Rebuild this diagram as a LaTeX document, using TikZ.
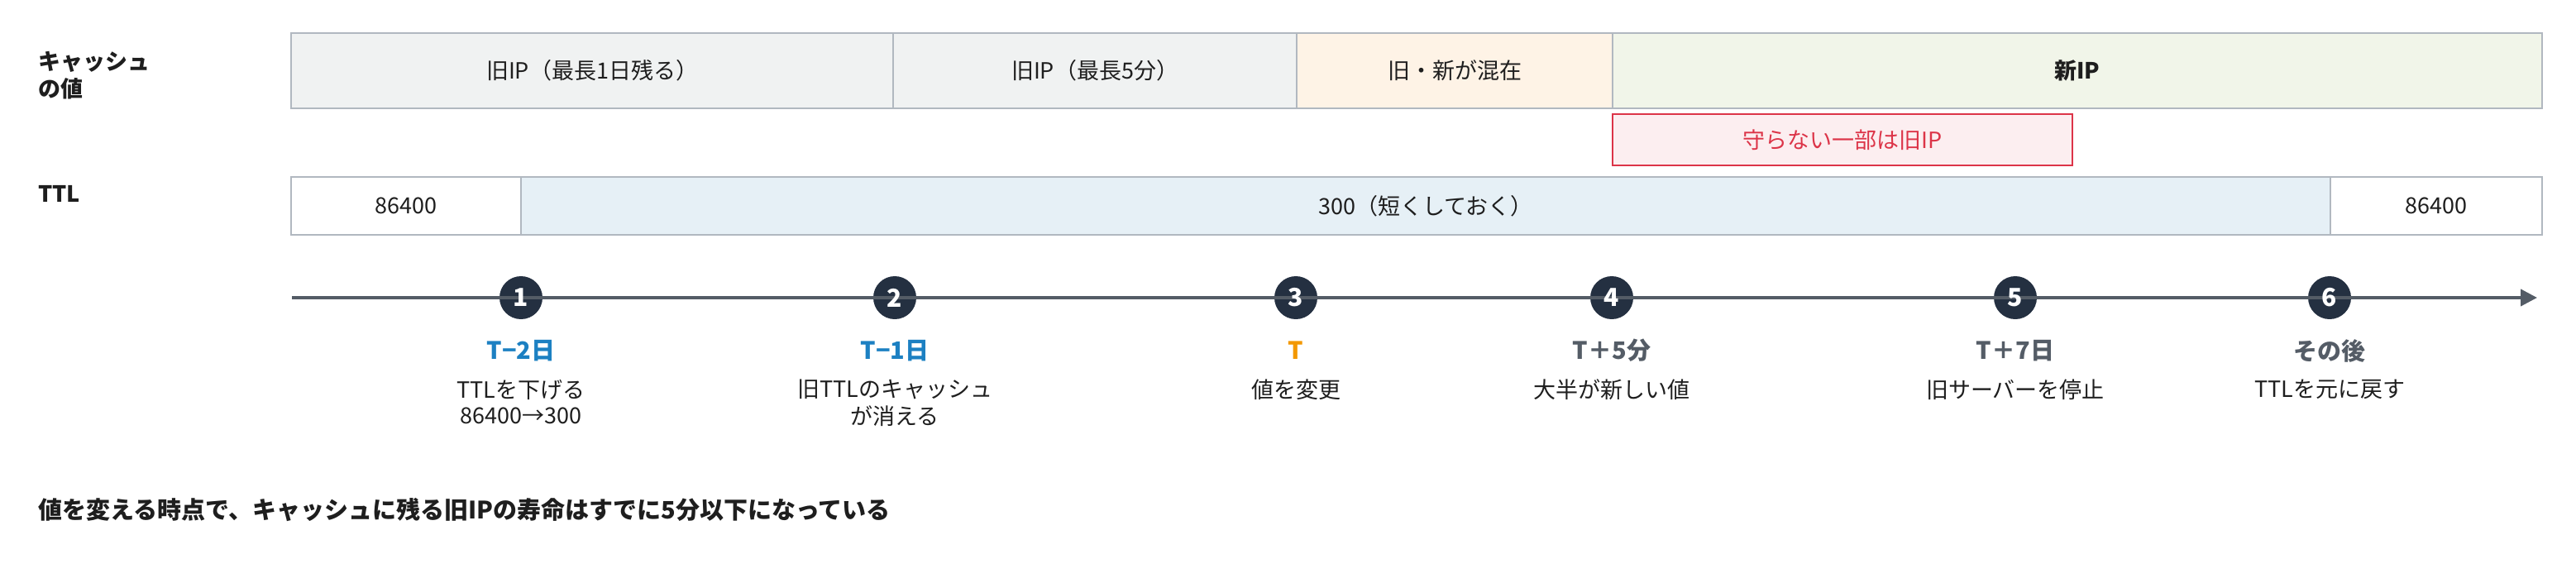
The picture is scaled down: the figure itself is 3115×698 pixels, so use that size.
\documentclass[tikz,border=0pt]{standalone}
\usepackage{fontspec}
\setmainfont{Noto Sans CJK JP}
\usetikzlibrary{arrows.meta}
\definecolor{oldfill}{HTML}{F0F2F2}
\definecolor{mixfill}{HTML}{FEF3E6}
\definecolor{newfill}{HTML}{F1F5E9}
\definecolor{cellline}{HTML}{B1B8C0}
\definecolor{ttlfill}{HTML}{E6F0F6}
\definecolor{redfill}{HTML}{FCEEF0}
\definecolor{redline}{HTML}{DC3448}
\definecolor{axisgray}{HTML}{545C66}
\definecolor{navy}{HTML}{243041}
\definecolor{stepblue}{HTML}{1C80C2}
\definecolor{steporange}{HTML}{F39800}
\definecolor{ink}{HTML}{1E1E1E}
\begin{document}
\begin{tikzpicture}[x=0.5pt,y=-0.5pt,
  cellbox/.style={draw=cellline, line width=1pt},
  outerbox/.style={draw=cellline, line width=1.3pt},
  body/.style={font=\fontsize{13.5pt}{16pt}\selectfont, text=ink, inner sep=0pt},
  bodybold/.style={body, font=\fontsize{13.5pt}{16pt}\selectfont\bfseries},
  sidelabel/.style={font=\fontsize{13.5pt}{16pt}\selectfont\bfseries, text=ink, inner sep=0pt, anchor=west},
  steptitle/.style={font=\fontsize{14.5pt}{17pt}\selectfont\bfseries, inner sep=0pt},
  stepdot/.style={circle, fill=navy, minimum size=26pt, inner sep=0pt},
  stepnum/.style={font=\fontsize{15pt}{15pt}\selectfont\bfseries, text=white, inner sep=0pt},
  axisline/.style={draw=axisgray, line width=2pt, -{Triangle[length=10pt,width=10pt]}}
]
\useasboundingbox (0,0) rectangle (3115,698);

% side labels
\node[sidelabel] (lblcache1) at (46,75) {キャッシュ};
\node[sidelabel] (lblcache2) at (46,107) {の値};
\node[sidelabel] (lblttl) at (46,234) {TTL};

% cache row
\path[cellbox, fill=oldfill] (352,40) rectangle (1080,131);
\path[cellbox, fill=oldfill] (1080,40) rectangle (1568,131);
\path[cellbox, fill=mixfill] (1568,40) rectangle (1950,131);
\path[cellbox, fill=newfill] (1950,40) rectangle (3074,131);
\path[outerbox] (352,40) rectangle (3074,131);
\node[body] (cache1) at (716,85.5) {旧IP（最長1日残る）};
\node[body] (cache2) at (1324,85.5) {旧IP（最長5分）};
\node[body] (cache3) at (1759,85.5) {旧・新が混在};
\node[bodybold] (cache4) at (2512,85.5) {新IP};

% red note
\path[draw=redline, line width=1pt, fill=redfill] (1950,138) rectangle (2506,200);
\node[body, text=redline] (rednote) at (2228,169) {守らない一部は旧IP};

% TTL row
\path[cellbox, fill=white] (352,214) rectangle (630,284);
\path[cellbox, fill=ttlfill] (630,214) rectangle (2818,284);
\path[cellbox, fill=white] (2818,214) rectangle (3074,284);
\path[outerbox] (352,214) rectangle (3074,284);
\node[body] (ttl1) at (491,249) {86400};
\node[body] (ttl2) at (1724,249) {300（短くしておく）};
\node[body] (ttl3) at (2946,249) {86400};

% timeline dots
\node[stepdot] (dot1) at (630,360) {};
\node[stepdot] (dot2) at (1082,360) {};
\node[stepdot] (dot3) at (1567,360) {};
\node[stepdot] (dot4) at (1949,360) {};
\node[stepdot] (dot5) at (2437,360) {};
\node[stepdot] (dot6) at (2817,360) {};

% axis
\coordinate (axstart) at (353,360);
\coordinate (axend) at (3068,360);
\draw[axisline] (axstart) -- (axend);

% numbers
\node[stepnum] (num1) at (dot1) {1};
\node[stepnum] (num2) at (dot2) {2};
\node[stepnum] (num3) at (dot3) {3};
\node[stepnum] (num4) at (dot4) {4};
\node[stepnum] (num5) at (dot5) {5};
\node[stepnum] (num6) at (dot6) {6};

% step titles
\node[steptitle, text=stepblue] (title1) at (630,424) {T−2日};
\node[steptitle, text=stepblue] (title2) at (1082,424) {T−1日};
\node[steptitle, text=steporange] (title3) at (1567,424) {T};
\node[steptitle, text=axisgray] (title4) at (1949,424) {T＋5分};
\node[steptitle, text=axisgray] (title5) at (2437,424) {T＋7日};
\node[steptitle, text=axisgray] (title6) at (2817,424) {その後};

% step descriptions
\node[body] (desc1a) at (630,471) {TTLを下げる};
\node[body] (desc1b) at (630,503) {86400→300};
\node[body] (desc2a) at (1082,471) {旧TTLのキャッシュ};
\node[body] (desc2b) at (1082,503) {が消える};
\node[body] (desc3a) at (1567,471) {値を変更};
\node[body] (desc4a) at (1949,471) {大半が新しい値};
\node[body] (desc5a) at (2437,471) {旧サーバーを停止};
\node[body] (desc6a) at (2817,471) {TTLを元に戻す};

% bottom note
\node[sidelabel, font=\fontsize{14.5pt}{17pt}\selectfont\bfseries] (footnote) at (46,617) {値を変える時点で、キャッシュに残る旧IPの寿命はすでに5分以下になっている};
\end{tikzpicture}
\end{document}
